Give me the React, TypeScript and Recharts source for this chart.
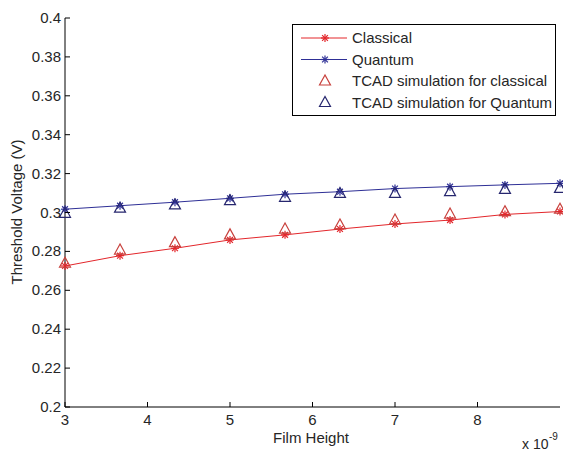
import React from 'react';
import { ComposedChart, Line, XAxis, YAxis, Legend, Customized } from 'recharts';

const filmHeight = [3, 3.667, 4.333, 5, 5.667, 6.333, 7, 7.667, 8.333, 9];
const classical = [0.2725, 0.2778, 0.2816, 0.2859, 0.2885, 0.2915, 0.2941, 0.2961, 0.299, 0.3005];
const quantum = [0.3017, 0.3035, 0.3053, 0.3073, 0.3094, 0.3107, 0.3123, 0.3133, 0.3142, 0.315];
const tcadClassical = [0.2739, 0.2807, 0.2845, 0.2885, 0.2915, 0.2936, 0.2961, 0.2992, 0.3004, 0.3017];
const tcadQuantum = [0.2996, 0.3022, 0.3039, 0.3061, 0.3078, 0.3098, 0.3098, 0.3107, 0.3119, 0.3124];

const xTicks = [3, 4, 5, 6, 7, 8];
const yTicks = [0.2, 0.22, 0.24, 0.26, 0.28, 0.3, 0.32, 0.34, 0.36, 0.38, 0.4];

const data = filmHeight.map((x, i) => ({
  x,
  classical: classical[i],
  quantum: quantum[i],
  tcadClassical: tcadClassical[i],
  tcadQuantum: tcadQuantum[i],
}));

const RED = '#e3262b';
const BLUE = '#2e2f96';
const RED_TRI = '#c8403c';
const BLUE_TRI = '#26266e';
const FONT = '"Liberation Sans", Arial, sans-serif';
const TXT = '#262626';

const Star = ({ cx, cy, color }: any) => {
  if (cx == null || cy == null) return null;
  const r = 4;
  const d = 2.9;
  return (
    <g stroke={color} strokeWidth={1.2}>
      <line x1={cx - r} y1={cy} x2={cx + r} y2={cy} />
      <line x1={cx} y1={cy - r} x2={cx} y2={cy + r} />
      <line x1={cx - d} y1={cy - d} x2={cx + d} y2={cy + d} />
      <line x1={cx - d} y1={cy + d} x2={cx + d} y2={cy - d} />
    </g>
  );
};

const Tri = ({ cx, cy, color }: any) => {
  if (cx == null || cy == null) return null;
  const pts = `${cx},${cy - 6} ${cx - 5.5},${cy + 4} ${cx + 5.5},${cy + 4}`;
  return <polygon points={pts} fill="none" stroke={color} strokeWidth={1.2} />;
};

const BottomTick = ({ x, y, payload }: any) => (
  <g>
    <line x1={x} y1={y} x2={x} y2={y - 5} stroke="#000" />
    <text x={x} y={y + 18} textAnchor="middle" fontSize={15} fontFamily={FONT} fill={TXT}>
      {payload.value}
    </text>
  </g>
);

const TopTick = ({ x, y }: any) => <line x1={x} y1={y} x2={x} y2={y + 5} stroke="#000" />;

const LeftTick = ({ x, y, payload }: any) => (
  <g>
    <line x1={x} y1={y} x2={x + 5} y2={y} stroke="#000" />
    <text x={x - 4} y={y + 5} textAnchor="end" fontSize={15} fontFamily={FONT} fill={TXT}>
      {String(Number(payload.value.toFixed(2)))}
    </text>
  </g>
);

const RightTick = ({ x, y }: any) => <line x1={x} y1={y} x2={x - 5} y2={y} stroke="#000" />;

const legendItems = [
  { label: 'Classical', color: RED, kind: 'line' },
  { label: 'Quantum', color: BLUE, kind: 'line' },
  { label: 'TCAD simulation for classical', color: RED_TRI, kind: 'tri' },
  { label: 'TCAD simulation for Quantum', color: BLUE_TRI, kind: 'tri' },
];

const renderLegend = () => (
  <svg width={264} height={92} style={{ display: 'block' }}>
    <rect x={0.5} y={0.5} width={263} height={91} fill="#fff" stroke="#000" />
    {legendItems.map((it, i) => {
      const cy = 14 + i * 21.5;
      return (
        <g key={it.label}>
          {it.kind === 'line' ? (
            <g>
              <line x1={9} y1={cy} x2={55} y2={cy} stroke={it.color} />
              <Star cx={33} cy={cy} color={it.color} />
            </g>
          ) : (
            <Tri cx={33} cy={cy} color={it.color} />
          )}
          <text x={60} y={cy + 5} fontSize={15} fontFamily={FONT} fill={TXT}>
            {it.label}
          </text>
        </g>
      );
    })}
  </svg>
);

const Labels = () => (
  <g fontFamily={FONT} fill={TXT}>
    <text x={311} y={443} textAnchor="middle" fontSize={15}>Film Height</text>
    <text x={522} y={449} fontSize={14}>x 10</text>
    <text x={549} y={440} fontSize={10}>-9</text>
    <text
      x={22}
      y={212}
      textAnchor="middle"
      fontSize={15}
      transform="rotate(-90 22 212)"
    >
      Threshold Voltage (V)
    </text>
  </g>
);

export default function App() {
  return (
    <div style={{ position: 'absolute', left: 0, top: 0, width: 563, height: 451, background: '#fff' }}>
      <ComposedChart width={563} height={451} data={data} margin={{ top: 18, right: 3, left: 0, bottom: 0 }}>
        <XAxis
          xAxisId="bottom"
          dataKey="x"
          type="number"
          domain={[3, 9]}
          ticks={xTicks}
          height={44}
          tickSize={0}
          tickMargin={0}
          tickLine={false}
          axisLine={{ stroke: '#000' }}
          tick={<BottomTick />}
          allowDecimals
        />
        <XAxis
          xAxisId="top"
          orientation="top"
          dataKey="x"
          type="number"
          domain={[3, 9]}
          ticks={xTicks}
          height={0}
          tickSize={0}
          tickMargin={0}
          tickLine={false}
          axisLine={{ stroke: '#000' }}
          tick={<TopTick />}
        />
        <YAxis
          yAxisId="left"
          type="number"
          domain={[0.2, 0.4]}
          ticks={yTicks}
          width={65}
          tickSize={0}
          tickMargin={0}
          tickLine={false}
          axisLine={{ stroke: '#000' }}
          tick={<LeftTick />}
        />
        <YAxis
          yAxisId="right"
          orientation="right"
          type="number"
          domain={[0.2, 0.4]}
          ticks={yTicks}
          width={0}
          tickSize={0}
          tickMargin={0}
          tickLine={false}
          axisLine={{ stroke: '#000' }}
          tick={<RightTick />}
        />
        <Line
          xAxisId="bottom"
          yAxisId="left"
          dataKey="classical"
          stroke={RED}
          strokeWidth={1}
          dot={(p: any) => <Star key={`c${p.index}`} cx={p.cx} cy={p.cy} color={RED} />}
          isAnimationActive={false}
        />
        <Line
          xAxisId="bottom"
          yAxisId="left"
          dataKey="quantum"
          stroke={BLUE}
          strokeWidth={1}
          dot={(p: any) => <Star key={`q${p.index}`} cx={p.cx} cy={p.cy} color={BLUE} />}
          isAnimationActive={false}
        />
        <Line
          xAxisId="bottom"
          yAxisId="left"
          dataKey="tcadClassical"
          stroke="none"
          dot={(p: any) => <Tri key={`tc${p.index}`} cx={p.cx} cy={p.cy} color={RED_TRI} />}
          isAnimationActive={false}
        />
        <Line
          xAxisId="bottom"
          yAxisId="left"
          dataKey="tcadQuantum"
          stroke="none"
          dot={(p: any) => <Tri key={`tq${p.index}`} cx={p.cx} cy={p.cy} color={BLUE_TRI} />}
          isAnimationActive={false}
        />
        <Legend
          layout="vertical"
          align="center"
          verticalAlign="middle"
          content={renderLegend}
          wrapperStyle={{ left: 292, top: 24, width: 264, height: 92 }}
        />
        <Customized component={Labels} />
      </ComposedChart>
    </div>
  );
}
